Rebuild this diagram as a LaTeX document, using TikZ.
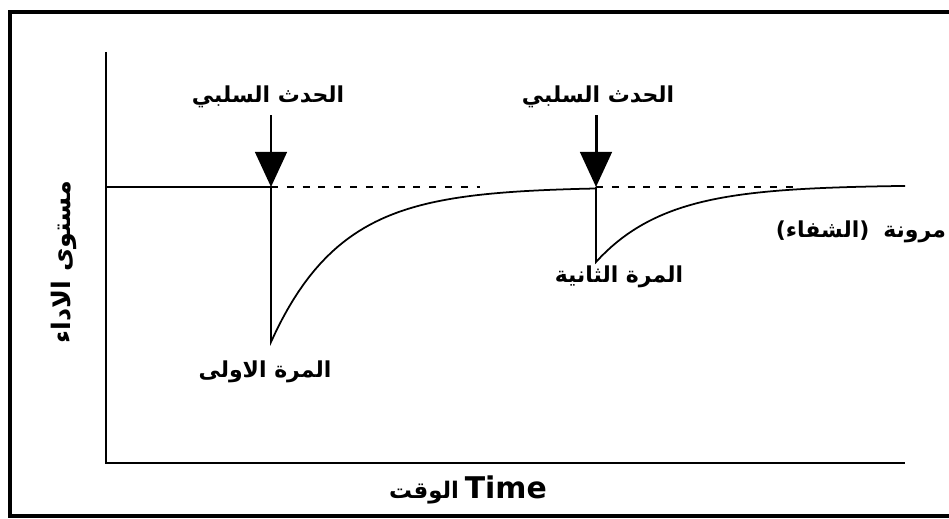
\documentclass[tikz,border=0pt]{standalone}
\usepackage{fontspec}
\TeXXeTstate=1
\newfontfamily\arabicfont[Script=Arabic]{DejaVu Sans}
\setsansfont{DejaVu Sans}
\usetikzlibrary{arrows.meta}

\begin{document}
\begin{tikzpicture}[x=0.02cm, y=-0.02cm,
    lbl/.style={font=\arabicfont\bfseries\fontsize{12.5}{15}\selectfont, inner sep=1pt},
    evarrow/.style={line width=1.7pt, shorten <=3pt, -{Triangle[width=18pt, length=20pt]}},
    level/.style={line width=1.2pt},
    guide/.style={line width=1.4pt, dash pattern=on 4pt off 5pt},
    recov/.style={line width=1pt}]
  \useasboundingbox (0,0) rectangle (949,519);

  % frame
  \draw[line width=2pt] (960,12) -- (10,12) -- (10,516) -- (960,516);

  % axes
  \coordinate (o) at (106,463);
  \coordinate (ytop) at (106,52);
  \coordinate (xend) at (905,463);
  \draw[line width=1.7pt] (ytop) -- (o) -- (xend);

  % level before the events
  \coordinate (l0) at (106,187);
  \coordinate (e1) at (271,187);
  \coordinate (e2) at (596,187);
  \coordinate (g1) at (480,187);
  \coordinate (g2) at (795,187);
  \coordinate (b1) at (271,342);
  \coordinate (b2) at (596,262);
  \draw[level] (l0) -- (e1);
  \draw[guide] (e1) -- (g1);
  \draw[guide] (e2) -- (g2);

  % first drop and recovery
  \draw[recov] (e1) -- (b1) -- plot[domain=271:596, samples=60]
    (\x, {187+155*exp(-(\x-271)/70)});
  % second drop and recovery
  \draw[recov] (e2) -- (b2) -- plot[domain=596:905, samples=60]
    (\x, {185+77*exp(-(\x-596)/70)});

  % events
  \node[lbl] (ev1) at (268,97) {\beginR الحدث السلبي\endR};
  \node[lbl] (ev2) at (598,97) {\beginR الحدث السلبي\endR};
  \draw[evarrow] (ev1.south -| e1) -- (e1);
  \draw[evarrow] (ev2.south -| e2) -- (e2);

  \node[lbl] (m1) at (265,372) {\beginR المرة الاولى\endR};
  \node[lbl] (m2) at (619,277) {\beginR المرة الثانية\endR};
  \node[lbl, anchor=east] (res) at (948,232) {\beginR مرونة\hspace{8pt}(الشفاء)\endR};

  % axis labels
  \node[lbl, rotate=90, font=\arabicfont\bfseries\fontsize{14.5}{17}\selectfont] (ylab) at (64,262) {\beginR مستوى الاداء\endR};
  \node (xlab) at (468,490) {{\arabicfont\bfseries\fontsize{13}{16}\selectfont\beginR الوقت\endR}
    {\sffamily\bfseries\fontsize{17}{20}\selectfont Time}};
\end{tikzpicture}
\end{document}
